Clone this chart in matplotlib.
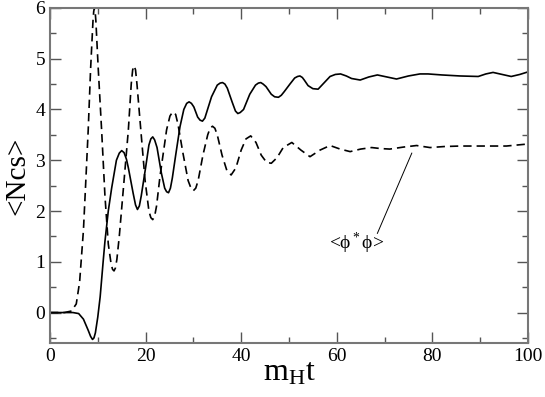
import numpy as np
import matplotlib
matplotlib.use('Agg')
import matplotlib.pyplot as plt
from matplotlib.ticker import MultipleLocator

plt.rcParams['font.family'] = ['Liberation Serif', 'DejaVu Serif']
plt.rcParams['mathtext.fontset'] = 'custom'
plt.rcParams['mathtext.rm'] = 'Liberation Serif'
plt.rcParams['mathtext.it'] = 'Liberation Serif'

# <Ncs> (solid)
t_ncs = [0, 3, 4.8, 6.0, 7.0, 8.0, 8.5, 8.9, 9.2, 9.5, 10.0, 10.5, 11.15, 11.5, 12.2,
         12.9, 13.9, 14.5, 15.0, 15.5, 16.0, 16.4, 17.4, 17.9, 18.3, 18.7, 19.1,
         20.0, 20.7, 21.1, 21.5, 21.9, 22.4, 23.3, 24.0, 24.4, 24.8, 25.2, 25.6,
         26.3, 27.2, 28.0, 28.6, 29.1, 29.6, 30.1, 30.9, 31.4, 31.9, 32.4, 32.8,
         33.8, 35.0, 35.6, 36.1, 36.6, 37.1, 38.1, 38.8, 39.3, 39.8, 40.5, 41.8,
         43.0, 43.6, 44.1, 44.6, 45.2, 46.3, 47.0, 47.8, 48.4, 49.0, 50.2, 51.2,
         51.8, 52.3, 52.8, 53.2, 54.0, 55.0, 56.1, 57.3, 58.6, 59.7, 60.8, 62.0,
         63.1, 64.9, 66.7, 68.5, 70.5, 72.5, 75.0, 77.4, 79.1, 82.0, 85.8, 89.6,
         91.2, 92.7, 94.6, 96.5, 98.3, 100]
ncs = [0, 0, 0, -0.02, -0.13, -0.35, -0.47, -0.53, -0.5, -0.4, -0.09, 0.31, 1.03, 1.4, 2.0,
       2.45, 3.0, 3.14, 3.19, 3.15, 3.02, 2.85, 2.35, 2.12, 2.03, 2.1, 2.3,
       2.85, 3.3, 3.42, 3.46, 3.4, 3.25, 2.75, 2.45, 2.38, 2.36, 2.45, 2.65,
       3.1, 3.66, 4.0, 4.12, 4.15, 4.12, 4.05, 3.85, 3.79, 3.77, 3.83, 3.95,
       4.25, 4.48, 4.52, 4.53, 4.5, 4.42, 4.15, 3.97, 3.92, 3.94, 4.0, 4.3,
       4.48, 4.52, 4.53, 4.5, 4.45, 4.3, 4.25, 4.24, 4.28, 4.35, 4.5, 4.62,
       4.65, 4.66, 4.63, 4.58, 4.47, 4.41, 4.40, 4.52, 4.65, 4.69, 4.70, 4.66,
       4.61, 4.58, 4.64, 4.68, 4.64, 4.60, 4.66, 4.70, 4.70, 4.68, 4.66, 4.65,
       4.70, 4.73, 4.69, 4.65, 4.69, 4.74]

# <phi* phi> (dashed)
t_phi = [0, 3, 4.5, 5.5, 6.2, 7.0, 7.5, 8.0, 8.5, 9.0, 9.15, 9.3, 9.45, 9.6, 10.1,
         10.8, 11.5, 12.2, 12.8, 13.1, 13.4, 13.7, 14.0, 14.5, 15.5, 16.4, 17.0,
         17.3, 17.6, 17.9, 18.2, 19.0, 19.9, 20.7, 21.1, 21.5, 21.9, 22.3, 23.0,
         24.4, 25.1, 25.5, 25.9, 26.3, 26.8, 27.8, 28.9, 29.5, 30.0, 30.5, 31.0,
         32.0, 33.0, 33.5, 34.0, 34.5, 35.0, 36.0, 37.0, 37.9, 38.9, 40.0, 41.0,
         42.0, 43.1, 44.2, 45.3, 46.3, 47.5, 48.8, 50.6, 52.5, 54.4, 56.5, 58.6,
         60.7, 62.8, 65.0, 67.3, 69.2, 71.1, 74.0, 76.7, 79.5, 82.5, 85.8, 90.5,
         95.5, 100]
phi = [0, 0, 0.03, 0.17, 0.6, 1.62, 2.6, 3.6, 4.8, 5.75, 5.93, 6.0, 5.93, 5.75, 4.8,
       3.6, 2.3, 1.35, 0.95, 0.85, 0.82, 0.88, 1.05, 1.5, 2.6, 3.6, 4.5,
       4.78, 4.86, 4.78, 4.5, 3.6, 2.6, 2.0, 1.87, 1.83, 1.9, 2.1, 2.67,
       3.6, 3.87, 3.93, 3.95, 3.9, 3.7, 3.15, 2.6, 2.45, 2.4, 2.45, 2.6,
       3.1, 3.5, 3.63, 3.67, 3.63, 3.5, 3.1, 2.8, 2.71, 2.85, 3.2, 3.42,
       3.48, 3.35, 3.1, 2.96, 2.94, 3.05, 3.25, 3.35, 3.2, 3.07, 3.2, 3.29,
       3.22, 3.17, 3.22, 3.25, 3.23, 3.22, 3.26, 3.29, 3.25, 3.27, 3.28, 3.28,
       3.28, 3.32]

fig = plt.figure(figsize=(5.45, 3.97), dpi=100)
ax = fig.add_axes([0.0917, 0.136, 0.877, 0.844])

ax.plot(t_ncs, ncs, color='black', lw=1.2)
ax.plot(t_phi, phi, color='black', lw=1.2, dashes=(5, 3))

# label for the dashed curve
ax.plot([68.5, 75.7], [1.56, 3.14], color='black', lw=0.7)
ax.text(58.3, 1.36, r'<ϕ$^*$ϕ>', fontsize=14, ha='left', va='center')

ax.set_xlim(0, 100)
ax.set_ylim(-0.6, 6)
ax.xaxis.set_major_locator(MultipleLocator(20))
ax.xaxis.set_minor_locator(MultipleLocator(10))
ax.yaxis.set_major_locator(MultipleLocator(1))
ax.yaxis.set_minor_locator(MultipleLocator(0.5))
ax.tick_params(which='both', direction='in', top=True, right=True,
               color='#555555', labelsize=14, width=1.0)
ax.tick_params(which='major', length=8)
ax.tick_params(which='minor', length=4)
for s in ax.spines.values():
    s.set_color('#777777')
    s.set_linewidth(1.5)

ax.text(0.5, -0.09, r'$\mathrm{m_H t}$', transform=ax.transAxes,
        fontsize=23, ha='center', va='center')
ax.text(-0.067, 0.5, '<Ncs>', transform=ax.transAxes, rotation=90,
        fontsize=21, ha='center', va='center')

plt.savefig('out.png', dpi=100)
